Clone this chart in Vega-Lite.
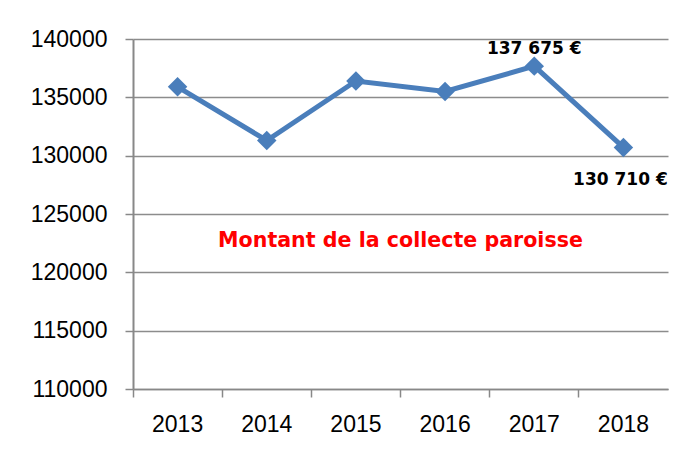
{
  "$schema": "https://vega.github.io/schema/vega-lite/v6.json",
  "width": 535,
  "height": 350,
  "autosize": "none",
  "padding": {"left": 133, "top": 39, "right": 25, "bottom": 61},
  "background": "white",
  "config": {"view": {"stroke": null}, "font": "Liberation Sans"},
  "title": {
    "text": "Montant de la collecte paroisse",
    "color": "#ff0000",
    "font": "DejaVu Sans",
    "fontWeight": "bold",
    "fontSize": 20.6,
    "anchor": "middle",
    "orient": "top",
    "frame": "group",
    "baseline": "middle",
    "offset": 0,
    "dy": 234
  },
  "data": {
    "values": [
      {"year": "2013", "value": 135900, "label": ""},
      {"year": "2014", "value": 131300, "label": ""},
      {"year": "2015", "value": 136400, "label": ""},
      {"year": "2016", "value": 135500, "label": ""},
      {"year": "2017", "value": 137675, "label": "137 675 €"},
      {"year": "2018", "value": 130710, "label": "130 710 €"}
    ]
  },
  "encoding": {
    "x": {
      "field": "year",
      "type": "ordinal",
      "scale": {"type": "band", "paddingInner": 0, "paddingOuter": 0},
      "axis": {
        "title": null,
        "labelAngle": 0,
        "labelFontSize": 23,
        "labelColor": "#000000",
        "labelFont": "Liberation Sans",
        "labelPadding": 16,
        "tickSize": 8,
        "tickColor": "#888888",
        "tickWidth": 1.5,
        "bandPosition": 0,
        "domainColor": "#888888",
        "domainWidth": 1.5,
        "grid": false
      }
    },
    "y": {
      "field": "value",
      "type": "quantitative",
      "scale": {"domain": [110000, 140000], "nice": false, "zero": false},
      "axis": {
        "title": null,
        "values": [110000, 115000, 120000, 125000, 130000, 135000, 140000],
        "format": "d",
        "labelFontSize": 23,
        "labelColor": "#000000",
        "labelFont": "Liberation Sans",
        "labelPadding": 18,
        "tickSize": 8,
        "tickColor": "#888888",
        "tickWidth": 1.5,
        "domainColor": "#888888",
        "domainWidth": 2,
        "gridColor": "#8c8c8c",
        "gridWidth": 1.5
      }
    }
  },
  "layer": [
    {
      "mark": {"type": "line", "color": "#4a7ebb", "strokeWidth": 5}
    },
    {
      "mark": {"type": "point", "shape": "diamond", "filled": true, "color": "#4a7ebb", "size": 380, "opacity": 1}
    },
    {
      "transform": [{"filter": "datum.year == '2017'"}],
      "mark": {"type": "text", "font": "DejaVu Sans", "fontWeight": "bold", "fontSize": 17, "color": "#000000", "dy": -17},
      "encoding": {"text": {"field": "label"}}
    },
    {
      "transform": [{"filter": "datum.year == '2018'"}],
      "mark": {"type": "text", "font": "DejaVu Sans", "fontWeight": "bold", "fontSize": 17, "color": "#000000", "dy": 33, "dx": -3},
      "encoding": {"text": {"field": "label"}}
    }
  ]
}
